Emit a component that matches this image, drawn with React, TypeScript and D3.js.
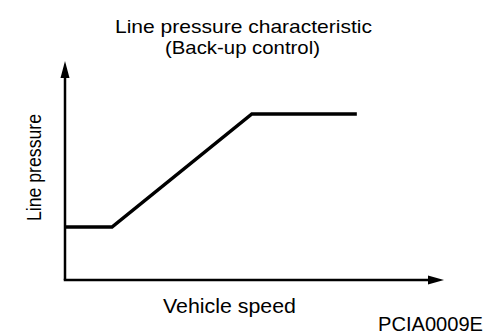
import React from "react";
import * as d3 from "d3";

const vehicleSpeed = [0, 12.4, 49.3, 77.0];
const linePressure = [24.2, 24.2, 75.8, 75.8];
const titleLines = ["Line pressure characteristic", "(Back-up control)"];
const xLabel = "Vehicle speed";
const yLabel = "Line pressure";
const figureId = "PCIA0009E";

const W = 496;
const H = 336;
const FONT = "'Liberation Sans', Arial, Helvetica, sans-serif";

export default function App() {
  const x = d3.scaleLinear().domain([0, 100]).range([65, 444]);
  const y = d3.scaleLinear().domain([0, 100]).range([280, 61]);
  const pts = vehicleSpeed.map((v, i) => [v, linePressure[i]] as [number, number]);
  const line = d3
    .line<[number, number]>()
    .x((d) => x(d[0]))
    .y((d) => y(d[1]));

  const x0 = x(0);
  const y0 = y(0);
  const xEnd = x(100);
  const yEnd = y(100);

  return (
    <svg
      width={W}
      height={H}
      style={{ position: "absolute", left: 0, top: 0, background: "#fff" }}
    >
      <rect width={W} height={H} fill="#fff" />
      {/* title */}
      <text
        x={243.5}
        y={32.5}
        textAnchor="middle"
        fontFamily={FONT}
        fontSize={19}
        textLength={257}
        lengthAdjust="spacingAndGlyphs"
        fill="#000"
      >
        {titleLines[0]}
      </text>
      <text
        x={242.5}
        y={54}
        textAnchor="middle"
        fontFamily={FONT}
        fontSize={19}
        textLength={155}
        lengthAdjust="spacingAndGlyphs"
        fill="#000"
      >
        {titleLines[1]}
      </text>

      {/* axes */}
      <line x1={x0} y1={y0} x2={x0} y2={yEnd + 12} stroke="#000" strokeWidth={2.5} />
      <path
        d={`M${x0},${yEnd} L${x0 - 4.5},${yEnd + 17} L${x0 + 4.5},${yEnd + 17} Z`}
        fill="#000"
      />
      <line x1={x0 - 1.25} y1={y0} x2={xEnd - 12} y2={y0} stroke="#000" strokeWidth={2.5} />
      <path
        d={`M${xEnd},${y0} L${xEnd - 16},${y0 - 4.5} L${xEnd - 16},${y0 + 4.5} Z`}
        fill="#000"
      />

      {/* characteristic line */}
      <path
        d={line(pts) || ""}
        fill="none"
        stroke="#000"
        strokeWidth={3.5}
        strokeLinejoin="miter"
      />

      {/* axis labels */}
      <text
        x={229.5}
        y={313}
        textAnchor="middle"
        fontFamily={FONT}
        fontSize={20.5}
        textLength={133}
        lengthAdjust="spacingAndGlyphs"
        fill="#000"
      >
        {xLabel}
      </text>
      <text
        transform={`translate(41,167.5) rotate(-90)`}
        textAnchor="middle"
        fontFamily={FONT}
        fontSize={19.5}
        textLength={107}
        lengthAdjust="spacingAndGlyphs"
        fill="#000"
      >
        {yLabel}
      </text>
      <text
        x={483}
        y={331}
        textAnchor="end"
        fontFamily={FONT}
        fontSize={20}
        textLength={105}
        lengthAdjust="spacingAndGlyphs"
        fill="#000"
      >
        {figureId}
      </text>
    </svg>
  );
}
